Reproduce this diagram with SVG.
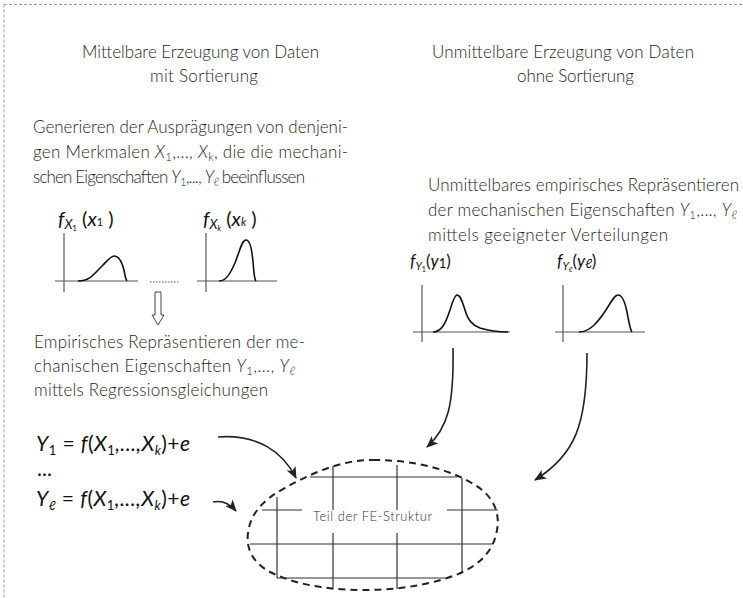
<svg xmlns="http://www.w3.org/2000/svg" width="743" height="598" viewBox="0 0 743 598">
<style>
.t{font-family:Lato,"Liberation Sans",sans-serif;font-weight:300;font-size:17px;fill:#1e1e1e}
.i{font-style:italic}
.s{font-size:11.5px}
.fm{font-family:Lato,"Liberation Sans",sans-serif;font-style:italic;font-size:21px;fill:#111}
.sb{font-size:13px}
.up{font-style:normal}
.lb{font-family:Lato,"Liberation Sans",sans-serif;font-style:italic;fill:#111}
.ax{stroke:#555;stroke-width:1.2;fill:none}
.cv{stroke:#111;stroke-width:1.6;fill:none}
.cn{stroke:#222;stroke-width:1.6;fill:none;marker-end:url(#ah)}
.gr{stroke:#333;stroke-width:1.2;fill:none}
</style>
<defs>
<marker id="ah" markerUnits="userSpaceOnUse" markerWidth="12" markerHeight="10" refX="11" refY="5" orient="auto">
<path d="M0,0 L12,5 L0,10 L3,5 z" fill="#222"/>
</marker>
</defs>
<g id="border" stroke="#999" stroke-width="1" stroke-dasharray="3 2" fill="none">
<line x1="4" y1="4.5" x2="743" y2="4.5"/>
<line x1="4" y1="4.5" x2="4" y2="598"/>
</g>
<g id="heading-left">
<text class="t" x="82" y="58" textLength="237">Mittelbare Erzeugung von Daten</text>
<text class="t" x="150" y="82" textLength="108">mit Sortierung</text>
</g>
<g id="heading-right">
<text class="t" x="432" y="58" textLength="262">Unmittelbare Erzeugung von Daten</text>
<text class="t" x="517" y="82" textLength="117">ohne Sortierung</text>
</g>
<g id="text-generieren">
<text class="t" x="33" y="133" textLength="315">Generieren der Ausprägungen von denjeni-</text>
<text class="t" x="33" y="158" textLength="315">gen Merkmalen <tspan class="i">X</tspan><tspan class="s" dy="3">1</tspan><tspan dy="-3">,..., </tspan><tspan class="i">X</tspan><tspan class="s" dy="3">k</tspan><tspan dy="-3">, die die mechani-</tspan></text>
<text class="t" x="33" y="183" textLength="272">schen Eigenschaften <tspan class="i">Y</tspan><tspan class="s" dy="3">1</tspan><tspan dy="-3">,..., </tspan><tspan class="i">Y</tspan><tspan class="s" dy="3">ℓ</tspan><tspan dy="-3"> beeinflussen</tspan></text>
</g>
<g id="text-unmittelbar">
<text class="t" x="428" y="191" textLength="311">Unmittelbares empirisches Repräsentieren</text>
<text class="t" x="428" y="216" textLength="309">der mechanischen Eigenschaften <tspan class="i">Y</tspan><tspan class="s" dy="3">1</tspan><tspan dy="-3">,..., </tspan><tspan class="i">Y</tspan><tspan class="s" dy="3">ℓ</tspan></text>
<text class="t" x="428" y="241" textLength="240">mittels geeigneter Verteilungen</text>
</g>
<g id="graph-x1">
<text class="lb" x="58" y="226" font-size="20">f<tspan font-size="13" dy="3">X</tspan><tspan font-size="8" dy="2" class="up">1</tspan><tspan dy="-5" class="up"> (</tspan>x<tspan font-size="11" class="up">1</tspan><tspan class="up"> )</tspan></text>
<line class="ax" x1="64" y1="233" x2="64" y2="292"/>
<line class="ax" x1="55" y1="281" x2="138" y2="281"/>
<path class="cv" d="M78,281 C90,281 94,274 102,266 C108,260 111,256 114,256 C119,256 122,262 124,270 C125,276 126,280 127,281"/>
</g>
<g id="dots">
<line x1="150" y1="282" x2="180" y2="282" stroke="#555" stroke-width="1" stroke-dasharray="1.5 1.5"/>
</g>
<g id="graph-xk">
<text class="lb" x="203" y="226" font-size="20">f<tspan font-size="13" dy="3">X</tspan><tspan font-size="8" dy="2">k</tspan><tspan dy="-5" class="up"> (</tspan>x<tspan font-size="11">k</tspan><tspan class="up"> )</tspan></text>
<line class="ax" x1="206" y1="233" x2="206" y2="292"/>
<line class="ax" x1="197" y1="281" x2="277" y2="281"/>
<path class="cv" d="M219,281 C226,281 230,274 235,263 C240,250 242,240 246,240 C250,240 252,250 253,262 C254,272 254,279 256,281"/>
</g>
<g id="hollow-arrow">
<polygon points="155,292 161,292 161,315 164,315 158,325 152,315 155,315" fill="#fff" stroke="#444" stroke-width="1"/>
</g>
<g id="text-empirisch">
<text class="t" x="34" y="348" textLength="271">Empirisches Repräsentieren der me-</text>
<text class="t" x="34" y="372" textLength="261">chanischen Eigenschaften <tspan class="i">Y</tspan><tspan class="s" dy="3">1</tspan><tspan dy="-3">,..., </tspan><tspan class="i">Y</tspan><tspan class="s" dy="3">ℓ</tspan></text>
<text class="t" x="34" y="396" textLength="234">mittels Regressionsgleichungen</text>
</g>
<g id="graph-y1">
<text class="lb" x="410" y="267" font-size="17">f<tspan font-size="11" dy="3">Y</tspan><tspan font-size="7" dy="2" class="up">1</tspan><tspan dy="-5" class="up">(</tspan>y<tspan font-size="13" dy="1" class="up">1</tspan><tspan dy="-1" class="up">)</tspan></text>
<line class="ax" x1="422" y1="285" x2="422" y2="342"/>
<line class="ax" x1="413" y1="332" x2="510" y2="332"/>
<path class="cv" d="M433,332 C442,332 446,322 450,310 C453,300 455,295 457,295 C460,295 462,300 465,310 C468,320 472,325 480,328 C490,331 500,332 508,332"/>
</g>
<g id="graph-yl">
<text class="lb" x="557" y="267" font-size="17">f<tspan font-size="11" dy="3">Y</tspan><tspan font-size="7" dy="2">ℓ</tspan><tspan dy="-5" class="up">(</tspan>y<tspan font-size="13" dy="1">ℓ</tspan><tspan dy="-1" class="up">)</tspan></text>
<line class="ax" x1="563" y1="285" x2="563" y2="342"/>
<line class="ax" x1="555" y1="332" x2="645" y2="332"/>
<path class="cv" d="M579,332 C590,332 598,322 606,310 C612,300 615,295 618,295 C622,295 625,302 627,312 C629,322 630,330 632,332"/>
</g>
<g id="formula-y1">
<text class="fm" x="36" y="451" textLength="154">Y<tspan class="sb up" dy="4">1</tspan><tspan dy="-4" class="up"> = </tspan>f<tspan class="up">(</tspan>X<tspan class="sb up" dy="4">1</tspan><tspan dy="-4">,...,X</tspan><tspan class="sb" dy="4">k</tspan><tspan dy="-4" class="up">)+</tspan>e</text>
</g>
<g id="ellipsis">
<text class="fm up" x="37" y="476" font-size="15">...</text>
</g>
<g id="formula-yl">
<text class="fm" x="36" y="506" textLength="154">Y<tspan class="sb" dy="4">ℓ</tspan><tspan dy="-4" class="up"> = </tspan>f<tspan class="up">(</tspan>X<tspan class="sb up" dy="4">1</tspan><tspan dy="-4">,...,X</tspan><tspan class="sb" dy="4">k</tspan><tspan dy="-4" class="up">)+</tspan>e</text>
</g>
<g id="fe-structure">
<path d="M373,460 C420,460 455,472 475,485 C495,497 500,515 497,530 C494,550 480,568 447,578 C420,587 390,590 363,590 C320,590 290,582 270,572 C252,562 246,548 248,533 C250,515 262,500 285,488 C310,474 340,460 373,460 Z" fill="none" stroke="#222" stroke-width="2" stroke-dasharray="7 5"/>
<g class="gr">
<line x1="310" y1="477" x2="457" y2="477"/>
<line x1="262" y1="510" x2="302" y2="510"/>
<line x1="447" y1="510" x2="498" y2="510"/>
<line x1="250" y1="544" x2="492" y2="544"/>
<line x1="277" y1="578" x2="445" y2="578"/>
<line x1="277" y1="497" x2="277" y2="578"/>
<line x1="333" y1="466" x2="333" y2="510"/>
<line x1="333" y1="533" x2="333" y2="588"/>
<line x1="397" y1="465" x2="397" y2="510"/>
<line x1="397" y1="533" x2="397" y2="589"/>
<line x1="462" y1="478" x2="462" y2="572"/>
</g>
<text x="313" y="521" textLength="119" font-family="Lato,'Liberation Sans',sans-serif" font-weight="300" font-size="13" fill="#333">Teil der FE-Struktur</text>
</g>
<g id="connectors">
<path class="cn" d="M218,437 C258,434 283,452 296,478"/>
<path class="cn" d="M213,502 C222,500 230,504 236,511"/>
<path class="cn" d="M453,348 C454,405 448,428 427,447"/>
<path class="cn" d="M587,353 C587,425 575,455 535,480"/>
</g>
</svg>
